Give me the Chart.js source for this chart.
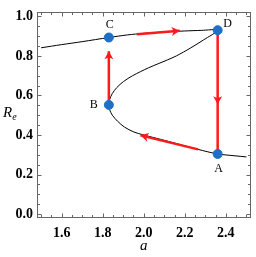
<!DOCTYPE html>
<html>
<head>
<meta charset="utf-8">
<script src="https://cdn.jsdelivr.net/npm/chart.js@4"></script>
<style>
  html, body { margin: 0; padding: 0; background: #fff; }
  #wrap { width: 256px; height: 257px; }
</style>
</head>
<body>
<div id="wrap"><canvas id="chart" width="256" height="257"></canvas></div>
<script>
// ===== DATA =====
// S-shaped equilibrium curve: upper branch -> fold D -> middle branch -> fold B -> lower branch
const curveA = [1.5, 1.6, 1.7, 1.83, 1.92, 2.0, 2.1, 2.2, 2.28, 2.36,
                2.29, 2.228, 2.159, 2.116, 2.024, 1.946, 1.901, 1.869, 1.847, 1.834, 1.83,
                1.833, 1.847, 1.872, 1.906, 1.952, 2.0, 2.1, 2.183, 2.265, 2.36, 2.44, 2.5];
const curveR = [0.841, 0.857, 0.872, 0.893, 0.906, 0.914, 0.921, 0.926, 0.929, 0.930,
                0.88, 0.84, 0.80, 0.78, 0.74, 0.70, 0.67, 0.64, 0.61, 0.58, 0.552,
                0.53, 0.50, 0.47, 0.44, 0.415, 0.400, 0.373, 0.35, 0.327, 0.304, 0.295, 0.289];

const pointNames = ["A", "B", "C", "D"];
const pointA = [2.36, 1.83, 1.83, 2.36];
const pointR = [0.304, 0.552, 0.893, 0.930];

// red arrows B->C, C->D, D->A, A->B
const arrowFrom = [[1.83, 0.552], [1.966, 0.909], [2.36, 0.930], [2.265, 0.327]];
const arrowTo   = [[1.83, 0.824], [2.175, 0.927], [2.36, 0.304], [1.984, 0.398]];
const arrowTip  = [[1.83, 0.824], [2.175, 0.927], [2.36, 0.556], [1.984, 0.398]];

const xTicks = [1.6, 1.8, 2.0, 2.2, 2.4];
const yTicks = [0.0, 0.2, 0.4, 0.6, 0.8, 1.0];
const xTitle = "a";
const yTitle = ["R", "e"];

// ===== STYLE =====
const SERIF = '"Liberation Serif", "DejaVu Serif", serif';
const RED = "#ff1a1a";
const BLUE = "#1f6fc5";
const FRAME = "#666666";

// ===== PLUGIN: arrowheads, frame, ticks, labels =====
const decor = {
  id: "decor",
  afterDatasetsDraw(chart) {
    const { ctx, scales: { x, y } } = chart;
    ctx.save();
    ctx.fillStyle = RED;
    arrowTip.forEach((tip, i) => {
      const fx = x.getPixelForValue(arrowFrom[i][0]);
      const fy = y.getPixelForValue(arrowFrom[i][1]);
      const tx = x.getPixelForValue(tip[0]);
      const ty = y.getPixelForValue(tip[1]);
      const len = Math.hypot(tx - fx, ty - fy);
      const ux = (tx - fx) / len, uy = (ty - fy) / len;
      const hl = 8, hw = 4.5;
      ctx.beginPath();
      ctx.moveTo(tx, ty);
      ctx.lineTo(tx - ux * hl - uy * hw, ty - uy * hl + ux * hw);
      ctx.lineTo(tx - ux * hl * 0.75, ty - uy * hl * 0.75);
      ctx.lineTo(tx - ux * hl + uy * hw, ty - uy * hl - ux * hw);
      ctx.closePath();
      ctx.fill();
    });
    ctx.restore();
  },
  afterDraw(chart) {
    const { ctx, chartArea: ca, scales: { x, y } } = chart;
    const L = Math.round(ca.left) + 0.5, R = Math.round(ca.right) - 0.5;
    const T = Math.round(ca.top) + 0.5, B = Math.round(ca.bottom) - 0.5;
    ctx.save();
    ctx.strokeStyle = FRAME;
    ctx.lineWidth = 1;
    ctx.strokeRect(L, T, R - L, B - T);

    ctx.beginPath();
    for (let k = 0; k <= 20; k++) {
      const v = 1.5 + k * 0.05;
      const major = xTicks.some(t => Math.abs(t - v) < 1e-6);
      const n = major ? 4 : 2.5;
      const px = Math.round(x.getPixelForValue(v)) + 0.5;
      ctx.moveTo(px, B); ctx.lineTo(px, B - n);
      ctx.moveTo(px, T); ctx.lineTo(px, T + n);
    }
    for (let k = 0; k <= 20; k++) {
      const v = k * 0.05;
      const major = yTicks.some(t => Math.abs(t - v) < 1e-6);
      const n = major ? 4 : 2.5;
      const py = Math.round(y.getPixelForValue(v)) + 0.5;
      ctx.moveTo(L, py); ctx.lineTo(L + n, py);
      ctx.moveTo(R, py); ctx.lineTo(R - n, py);
    }
    ctx.stroke();

    // point labels
    const offset = { A: [1, 15], B: [-15, 0], C: [1, -13], D: [10, -6] };
    ctx.fillStyle = "#000";
    ctx.font = "12px " + SERIF;
    ctx.textAlign = "center";
    ctx.textBaseline = "middle";
    pointNames.forEach((name, i) => {
      const px = x.getPixelForValue(pointA[i]) + offset[name][0];
      const py = y.getPixelForValue(pointR[i]) + offset[name][1];
      ctx.fillText(name, px, py);
    });

    // axis titles
    ctx.font = "italic 15px " + SERIF;
    ctx.textBaseline = "alphabetic";
    ctx.fillText(xTitle, (ca.left + ca.right) / 2, 250);
    ctx.textAlign = "left";
    ctx.fillText(yTitle[0], 3, 117);
    const w = ctx.measureText(yTitle[0]).width;
    ctx.font = "italic 10px " + SERIF;
    ctx.fillText(yTitle[1], 3 + w, 120);
    ctx.restore();
  }
};

// ===== CHART =====
const ctx = document.getElementById("chart").getContext("2d");

const datasets = [
  {
    label: "points",
    data: pointA.map((a, i) => ({ x: a, y: pointR[i] })),
    backgroundColor: BLUE,
    borderColor: BLUE,
    pointRadius: 4.5,
    showLine: false,
    order: 0
  }
];

arrowFrom.forEach((f, i) => {
  datasets.push({
    label: "arrow" + i,
    data: [{ x: f[0], y: f[1] }, { x: arrowTo[i][0], y: arrowTo[i][1] }],
    borderColor: RED,
    borderWidth: 2.5,
    pointRadius: 0,
    showLine: true,
    order: 1
  });
});

datasets.push({
  label: "curve",
  data: curveA.map((a, i) => ({ x: a, y: curveR[i] })),
  borderColor: "#000",
  borderWidth: 1,
  pointRadius: 0,
  showLine: true,
  tension: 0.3,
  order: 2
});

const tickFont = { family: SERIF, size: 14, weight: "bold" };

const chart = new Chart(ctx, {
  type: "scatter",
  data: { datasets: datasets },
  options: {
    responsive: false,
    animation: false,
    layout: { padding: { top: 2, right: 3, left: 0, bottom: 0 } },
    plugins: { legend: { display: false }, tooltip: { enabled: false } },
    scales: {
      x: {
        type: "linear",
        min: 1.48,
        max: 2.52,
        afterBuildTicks: s => { s.ticks = xTicks.map(v => ({ value: v })); },
        afterFit: s => { s.height = 39; },
        grid: { display: false, drawTicks: false },
        border: { display: false },
        ticks: { color: "#000", font: tickFont, padding: 7, maxRotation: 0,
                 callback: v => Number(v).toFixed(1) }
      },
      y: {
        type: "linear",
        min: -0.02,
        max: 1.02,
        afterBuildTicks: s => { s.ticks = yTicks.map(v => ({ value: v })); },
        afterFit: s => { s.width = 37; },
        grid: { display: false, drawTicks: false },
        border: { display: false },
        ticks: { color: "#000", font: tickFont, padding: 4,
                 callback: v => Number(v).toFixed(1) }
      }
    }
  },
  plugins: [decor]
});
</script>
</body>
</html>
